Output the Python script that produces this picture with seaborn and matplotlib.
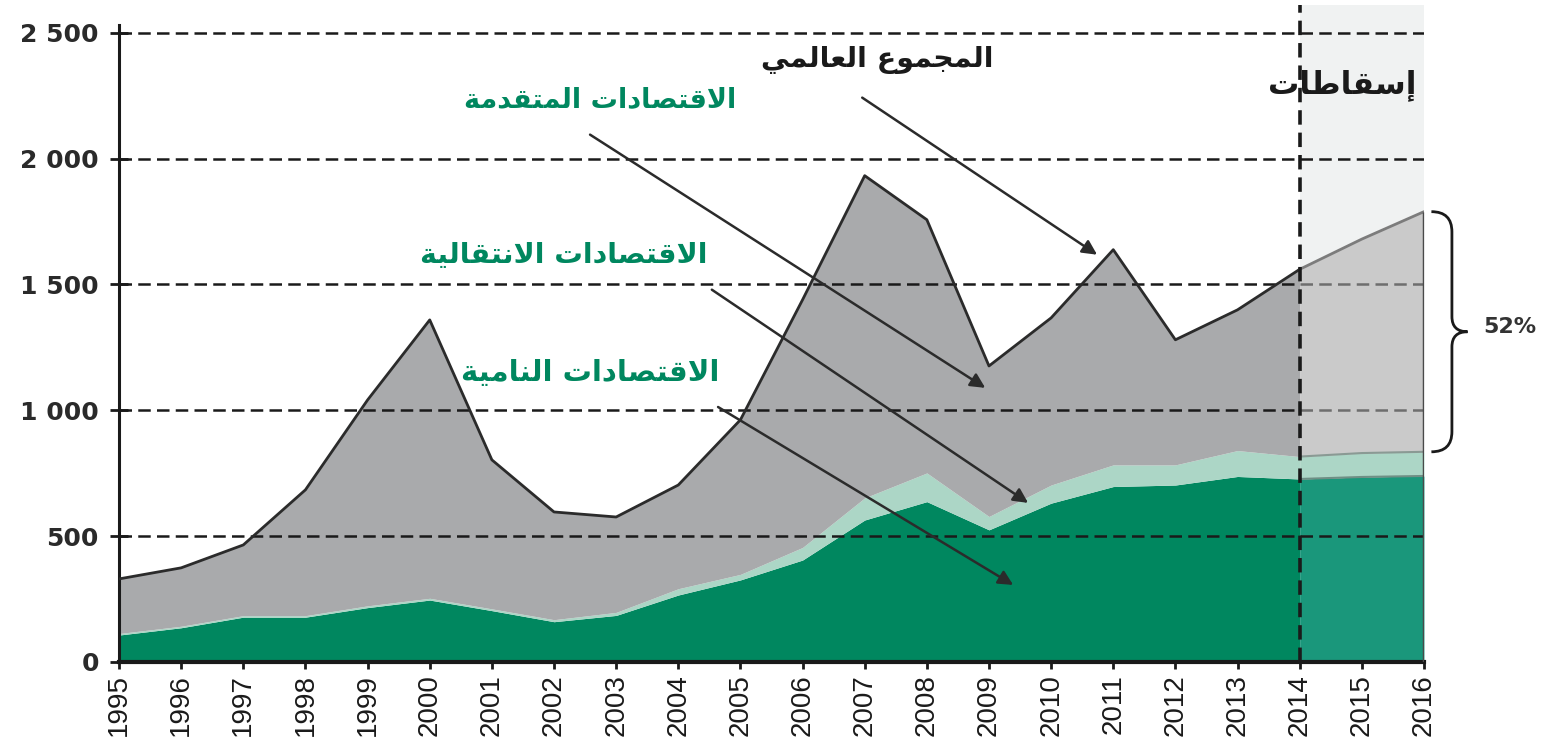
import matplotlib
matplotlib.use('Agg')
import matplotlib.pyplot as plt
from matplotlib.path import Path
from matplotlib.patches import PathPatch
import numpy as np
import pandas as pd
import seaborn as sns

# data (billion USD)
years = list(range(1995, 2017))
total = [330, 374, 465, 684, 1041, 1359, 803, 596, 576, 703, 962,
         1439, 1932, 1757, 1176, 1367, 1638, 1280, 1399, 1560, 1680, 1789]
developing = [107, 136, 178, 178, 216, 246, 204, 160, 185, 266, 326,
              405, 564, 637, 525, 631, 697, 703, 737, 727, 735, 739]
transition = [6, 6, 6, 6, 7, 7, 7, 8, 12, 25, 22,
              50, 88, 114, 53, 72, 86, 80, 103, 89, 95, 96]
proj_start = 2014
y_ticks = [0, 500, 1000, 1500, 2000, 2500]
share_label = '52%'

lbl_total = 'المجموع العالمي'
lbl_developed = 'الاقتصادات المتقدمة'
lbl_transition = 'الاقتصادات الانتقالية'
lbl_developing = 'الاقتصادات النامية'
lbl_proj = 'إسقاطات'

# --- small arabic shaper (matplotlib has no arabic layout) ---
FORMS = {  # isolated, final, initial, medial
    'ا': (0xFE8D, 0xFE8E, None, None), 'إ': (0xFE87, 0xFE88, None, None),
    'د': (0xFEA9, 0xFEAA, None, None), 'ة': (0xFE93, 0xFE94, None, None),
    'و': (0xFEED, 0xFEEE, None, None),
    'ت': (0xFE95, 0xFE96, 0xFE97, 0xFE98), 'ج': (0xFE9D, 0xFE9E, 0xFE9F, 0xFEA0),
    'س': (0xFEB1, 0xFEB2, 0xFEB3, 0xFEB4), 'ص': (0xFEB9, 0xFEBA, 0xFEBB, 0xFEBC),
    'ط': (0xFEC1, 0xFEC2, 0xFEC3, 0xFEC4), 'ع': (0xFEC9, 0xFECA, 0xFECB, 0xFECC),
    'ق': (0xFED5, 0xFED6, 0xFED7, 0xFED8), 'ل': (0xFEDD, 0xFEDE, 0xFEDF, 0xFEE0),
    'م': (0xFEE1, 0xFEE2, 0xFEE3, 0xFEE4), 'ن': (0xFEE5, 0xFEE6, 0xFEE7, 0xFEE8),
    'ي': (0xFEF1, 0xFEF2, 0xFEF3, 0xFEF4),
}


def ar(s):
    res = []
    i, n = 0, len(s)
    while i < n:
        c = s[i]
        if c not in FORMS:
            res.append(c)
            i += 1
            continue
        prev = s[i - 1] if i > 0 else ' '
        joined_prev = prev in FORMS and FORMS[prev][2] is not None
        if c == 'ل' and i + 1 < n and s[i + 1] in 'اإ':
            lig = (0xFEFB, 0xFEFC) if s[i + 1] == 'ا' else (0xFEF9, 0xFEFA)
            res.append(chr(lig[1] if joined_prev else lig[0]))
            i += 2
            continue
        nxt = s[i + 1] if i + 1 < n else ' '
        joined_next = FORMS[c][2] is not None and nxt in FORMS
        iso, fin, ini, med = FORMS[c]
        if joined_prev and joined_next:
            code = med
        elif joined_prev:
            code = fin
        elif joined_next:
            code = ini
        else:
            code = iso
        res.append(chr(code))
        i += 1
    return ''.join(reversed(res))


sns.set_theme(style='ticks')
plt.rcParams['font.family'] = ['Liberation Sans', 'DejaVu Sans']

df = pd.DataFrame({'year': years, 'total': total,
                   'developing': developing, 'transition': transition})
df['dev_trans'] = df['developing'] + df['transition']
hist = df[df.year <= proj_start]
proj = df[df.year >= proj_start]

fig = plt.figure(figsize=(15.52, 7.48), dpi=100)
ax = fig.add_axes([0.0767, 0.115, 0.8408, 0.8783])

# projection background
ax.axvspan(proj_start, years[-1], color='#f0f2f2', zorder=0, lw=0)

# stacked areas
ax.fill_between(hist.year, 0, hist.developing, color='#00875f', lw=0, zorder=1)
ax.fill_between(hist.year, hist.developing, hist.dev_trans, color='#acd6c6', lw=0, zorder=1)
ax.fill_between(hist.year, hist.dev_trans, hist.total, color='#a9aaac', lw=0, zorder=1)
ax.fill_between(proj.year, 0, proj.developing, color='#1a977b', lw=0, zorder=1)
ax.fill_between(proj.year, proj.developing, proj.dev_trans, color='#acd6c6', lw=0, zorder=1)
ax.fill_between(proj.year, proj.dev_trans, proj.total, color='#cacaca', lw=0, zorder=1)

# grid lines: black, greyed over the projected developed area
for v in y_ticks[1:]:
    ax.hlines(v, years[0], proj_start, color='#1a1a1a', lw=1.8,
              linestyles=(0, (5, 2.5)), zorder=2)
    inside = proj.dev_trans.min() < v < proj.total.max()
    ax.hlines(v, proj_start, years[-1], color='#6e6e6e' if inside else '#1a1a1a',
              lw=1.8, linestyles=(0, (5, 2.5)), zorder=2)

sns.lineplot(data=hist, x='year', y='total', color='#2b2b2b', lw=2, ax=ax, zorder=4)
sns.lineplot(data=proj, x='year', y='total', color='#7c7c7c', lw=2, ax=ax, zorder=4)
ax.plot(proj.year, proj.dev_trans, color='#8a9a94', lw=1.5, zorder=3)
ax.plot(proj.year, proj.developing, color='#6f8f85', lw=1.5, zorder=3)
ax.vlines(years[-1], 0, total[-1], color='#4a4a4a', lw=2.5, zorder=4)

# projection divider
ax.axvline(proj_start, color='#1a1a1a', lw=2.6, ls=(0, (4, 2.2)), zorder=5)

ax.set_xlim(years[0], years[-1])
ax.set_ylim(0, 2610)
ax.set_xticks(years)
ax.set_xticklabels([str(y) for y in years], rotation=90, fontsize=20)
ax.set_yticks(y_ticks)
ax.set_yticklabels([f'{v:,}'.replace(',', ' ') for v in y_ticks],
                   fontsize=18, fontweight='bold', family=['DejaVu Sans'])
ax.tick_params(axis='y', direction='inout', length=13, width=2, pad=8, colors='#1a1a1a')
ax.tick_params(axis='x', direction='out', length=5, width=2, pad=4, colors='#1a1a1a')
for lab in ax.get_yticklabels():
    lab.set_color('#2a2a2a')
ax.set_xlabel('')
ax.set_ylabel('')
for s in ['top', 'right']:
    ax.spines[s].set_visible(False)
ax.spines['left'].set_linewidth(2.2)
ax.spines['left'].set_color('#1a1a1a')
ax.spines['left'].set_bounds(0, 2532)
ax.spines['bottom'].set_linewidth(3)
ax.spines['bottom'].set_color('#1a1a1a')

# annotations
green = '#00875f'
arrow = dict(arrowstyle='-|>', color='#2b2b2b', lw=1.8, mutation_scale=22,
             shrinkA=0, shrinkB=0)
txt = dict(family=['DejaVu Sans'], fontweight='bold', ha='center', va='center')
ax.text(2007.2, 2390, ar(lbl_total), fontsize=20.5, color='#1a1a1a', **txt)
ax.annotate('', xy=(2010.74, 1618), xytext=(2006.96, 2242), arrowprops=arrow, zorder=6)
ax.text(2002.74, 2234, ar(lbl_developed), fontsize=19.5, color=green, **txt)
ax.annotate('', xy=(2008.94, 1089), xytext=(2002.58, 2095), arrowprops=arrow, zorder=6)
ax.text(2002.15, 1618, ar(lbl_transition), fontsize=20.5, color=green, **txt)
ax.annotate('', xy=(2009.63, 632), xytext=(2004.54, 1479), arrowprops=arrow, zorder=6)
ax.text(2002.58, 1149, ar(lbl_developing), fontsize=21, color=green, **txt)
ax.annotate('', xy=(2009.39, 306), xytext=(2004.64, 1013), arrowprops=arrow, zorder=6)
ax.text(2014.68, 2293, ar(lbl_proj), fontsize=22.5, color='#1a1a1a', zorder=6, **txt)

# brace on the right
top, bot = total[-1], proj.dev_trans.iloc[-1]
mid = (top + bot) / 2
x0, x1, xp = years[-1] + 0.12, years[-1] + 0.45, years[-1] + 0.7
verts = [(x0, top), (x1, top), (x1, top - 80),
         (x1, mid + 60), (x1, mid), (xp, mid),
         (x1, mid), (x1, mid - 60),
         (x1, bot + 80), (x1, bot), (x0, bot)]
codes = [Path.MOVETO, Path.CURVE3, Path.CURVE3,
         Path.LINETO, Path.CURVE3, Path.CURVE3,
         Path.CURVE3, Path.CURVE3,
         Path.LINETO, Path.CURVE3, Path.CURVE3]
ax.add_patch(PathPatch(Path(verts, codes), fill=False, lw=2, ec='#1a1a1a', clip_on=False))
ax.text(years[-1] + 0.95, mid + 20, share_label, fontsize=16, fontweight='bold',
        family=['DejaVu Sans'], color='#333333', ha='left', va='center')

fig.savefig('out.png', dpi=100)
